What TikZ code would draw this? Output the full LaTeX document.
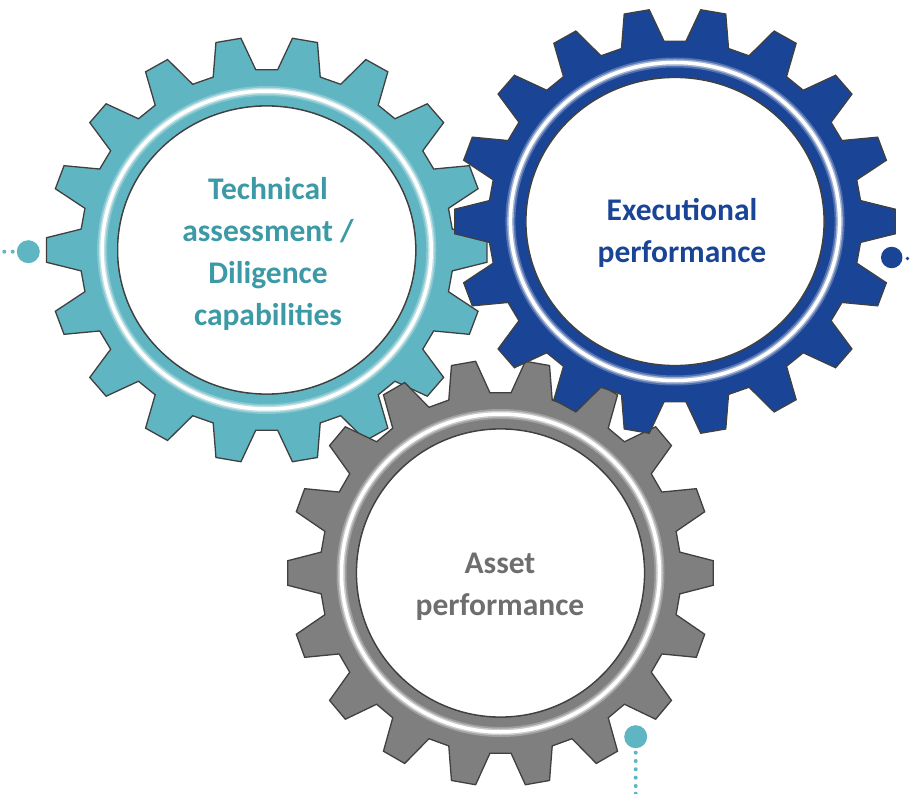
\documentclass[tikz,border=0pt]{standalone}
\usepackage{fontspec}
\setmainfont{Carlito}
\definecolor{tealgear}{HTML}{5FB5C2}
\definecolor{tealtxt}{HTML}{3C9AA6}
\definecolor{bluegear}{HTML}{1A4496}
\definecolor{graygear}{HTML}{7F7F7F}
\definecolor{graytxt}{HTML}{6E6E6E}
\definecolor{edge}{HTML}{404040}
\newcommand{\drawgear}[4]{%
  \begin{scope}[shift={(#1,#2)},xscale=#4]
    \path[fill=#3,draw=edge,line width=1.3pt,even odd rule]
      (-6.65:180.5)
      \foreach \k in {0,...,17}{
        -- ({20*\k-6.65}:180.5) -- ({20*\k-3.3}:213.2)
        -- ({20*\k+3.3}:213.2) -- ({20*\k+6.65}:180.5)
      } -- cycle
      (0,0) circle[radius=144];
    \fill[white] (0,0) circle[radius=144];
    \draw[edge,line width=1.3pt] (0,0) circle[radius=144];
    \draw[white,opacity=0.25,line width=10pt] (0,0) circle[radius=159];
    \draw[white,opacity=0.45,line width=6.5pt] (0,0) circle[radius=159];
    \draw[white,line width=3.5pt] (0,0) circle[radius=159];
  \end{scope}}
\tikzset{
  gearlabel/.style={font=\fontsize{31.5}{42}\selectfont\bfseries,align=center,inner sep=0pt},
  bigdot/.style={circle,inner sep=0pt,minimum size=23pt},
  tinydot/.style={circle,inner sep=0pt,minimum size=4pt}
}
\begin{document}
\begin{tikzpicture}[x=1pt,y=-1pt]
  \useasboundingbox (0,0) rectangle (910,794);
  \drawgear{266.7}{250}{tealgear}{1.035}
  \drawgear{500.5}{573}{graygear}{1.0}
  \drawgear{675}{221.5}{bluegear}{1.035}
  \node[gearlabel,text=tealtxt] (techlabel) at (268,254) {Technical\\assessment /\\Diligence\\capabilities};
  \node[gearlabel,text=bluegear] (execlabel) at (682,233) {Executional\\performance};
  \node[gearlabel,text=graytxt] (assetlabel) at (500,587) {Asset\\performance};
  % left teal dot
  \node[bigdot,fill=tealgear] (dotL) at (28.3,251.7) {};
  \node[tinydot,fill=tealgear] (dotL1) at (12.7,251.7) {};
  \node[tinydot,fill=tealgear] (dotL2) at (4.3,251.7) {};
  % right blue dot
  \node[bigdot,fill=bluegear,minimum size=21.5pt] (dotR) at (891.7,257.5) {};
  \node[tinydot,fill=bluegear,minimum size=3.6pt] (dotR1) at (907.5,258.5) {};
  % bottom teal dot
  \node[bigdot,fill=tealgear] (dotB) at (635.7,736.7) {};
  \foreach \i/\yy in {1/752.7,2/761,3/769.3,4/777.7,5/786,6/793.6}{
    \node[tinydot,fill=tealgear] (dotB\i) at (635.7,\yy) {};
  }
\end{tikzpicture}
\end{document}
